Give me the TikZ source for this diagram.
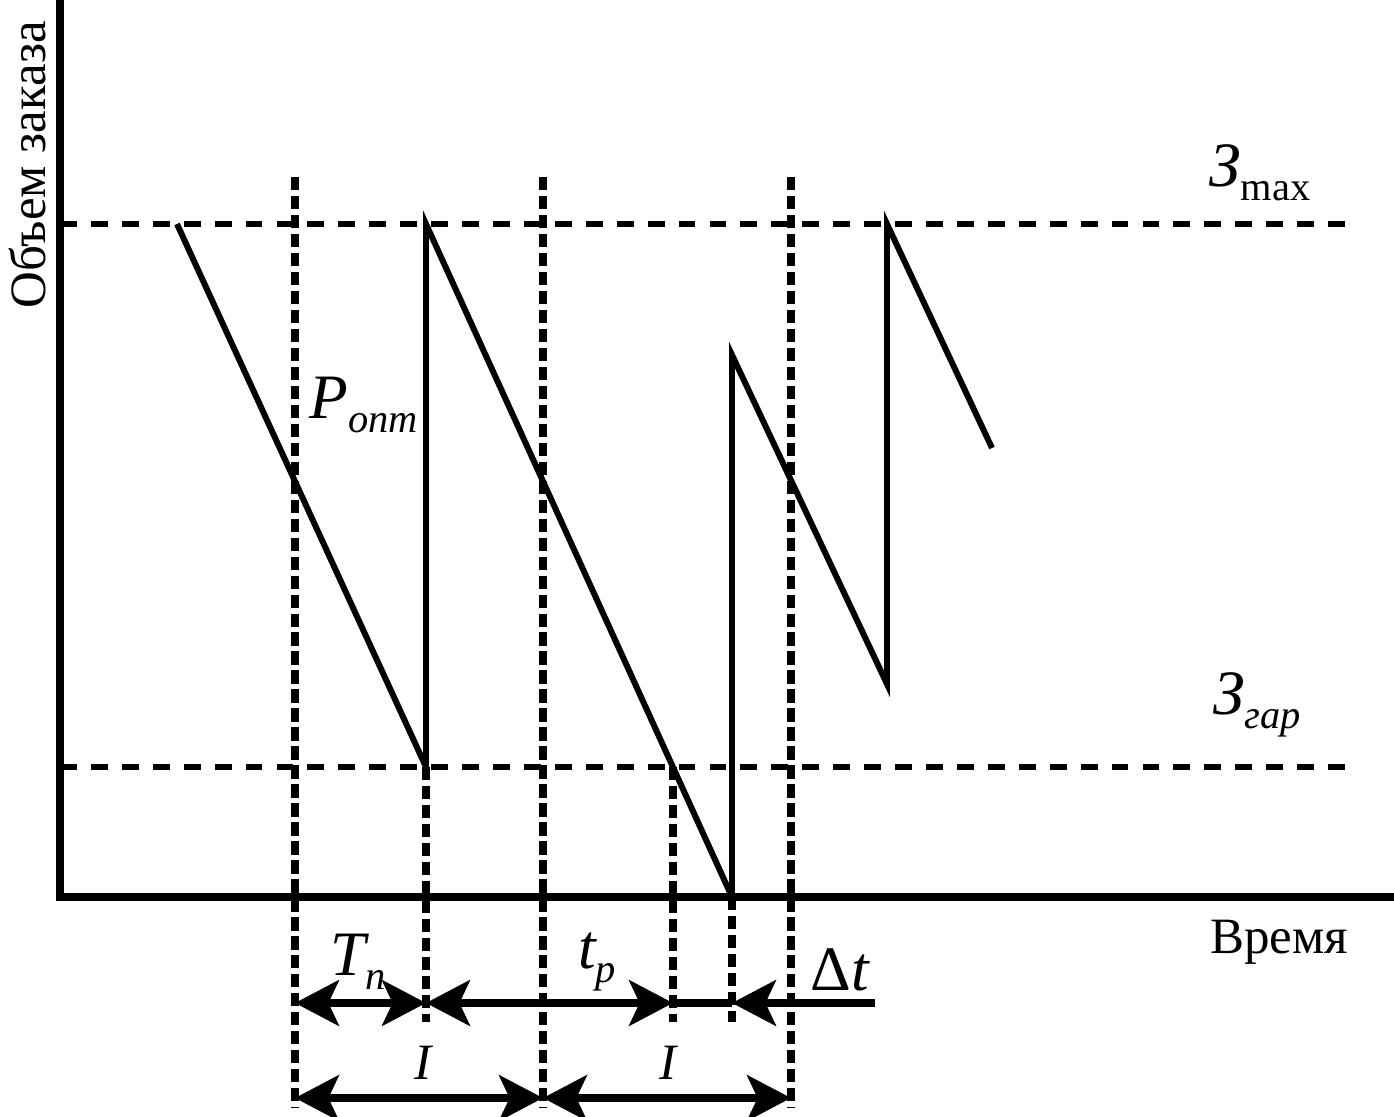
\documentclass[tikz,border=0pt]{standalone}
\usepackage{fontspec}
\setmainfont{Liberation Serif}
\usetikzlibrary{arrows.meta}
\newcommand\lowsub[1]{\raisebox{-4pt}{\fontsize{11.5}{12}\selectfont #1}}
\tikzset{
  axis/.style={line width=2pt},
  saw/.style={line width=1.7pt},
  hlevel/.style={line width=1.9pt, dash pattern=on 4.8pt off 4pt},
  vmark/.style={line width=2.2pt, dash pattern=on 3.8pt off 1.6pt},
  span/.style={line width=2pt},
  lbl/.style={font=\fontsize{18}{20}\selectfont\itshape, inner sep=0pt},
  axlbl/.style={font=\fontsize{14.5}{16}\selectfont, inner sep=0pt},
  >={Stealth[length=12.5pt,width=13pt,inset=3pt]}
}
\begin{document}
\begin{tikzpicture}
      \useasboundingbox (0,0) rectangle (13.94,11.17);
      % axes
      \draw[axis] (0.60,11.17) -- (0.60,2.20) -- (13.94,2.20);
      \node[axlbl, rotate=90] (yl) at (0.28,9.52) {Объем заказа};
      \node[axlbl] (xl) at (12.79,1.75) {Время};
      % levels
      \draw[hlevel] (0.60,8.93) -- (13.53,8.93);
      \draw[hlevel] (0.60,3.50) -- (13.53,3.50);
      \node[lbl] (zmax) at (12.60,9.44) {З\lowsub{\upshape max}};
      \node[lbl] (zgar) at (12.57,4.12) {З\lowsub{гар}};
      % time marks
      \foreach \x in {2.95,5.43,7.91}
        \draw[vmark] (\x,9.40) -- (\x,0.09);
      \draw[vmark] (4.26,3.50) -- (4.26,0.95);
      \draw[vmark] (6.73,3.50) -- (6.73,0.95);
      \draw[vmark] (7.32,2.20) -- (7.32,0.95);
      % stock
      \draw[saw] (1.77,8.93) -- (4.26,3.50) -- (4.26,8.93) -- (7.32,2.20)
        -- (7.32,7.62) -- (8.87,4.33) -- (8.87,8.93) -- (9.92,6.69);
      \node[lbl] (popt) at (3.64,7.12) {P\lowsub{опт}};
      % spans
      \coordinate (p1) at (2.95,1.14);
      \coordinate (p2) at (4.26,1.14);
      \coordinate (p3) at (6.73,1.14);
      \coordinate (p4) at (7.32,1.14);
      \coordinate (p5) at (8.75,1.14);
      \draw[span,<->] (p1) -- (p2);
      \draw[span,<->] (p2) -- (p3);
      \draw[span] (p3) -- (p4);
      \draw[span,<-] (p4) -- (p5);
      \coordinate (q1) at (2.95,0.19);
      \coordinate (q2) at (5.43,0.19);
      \coordinate (q3) at (7.91,0.19);
      \draw[span,<->] (q1) -- (q2);
      \draw[span,<->] (q2) -- (q3);
      \node[lbl] (tn) at (3.58,1.55) {T\lowsub{п}};
      \node[lbl] (tr) at (5.97,1.55) {t\lowsub{р}};
      \node[lbl] (dt) at (8.40,1.47) {\upshape Δ\itshape t};
      \node[lbl, font=\fontsize{14.5}{16}\selectfont\itshape] (i1) at (4.23,0.54) {I};
      \node[lbl, font=\fontsize{14.5}{16}\selectfont\itshape] (i2) at (6.68,0.54) {I};
\end{tikzpicture}
\end{document}
